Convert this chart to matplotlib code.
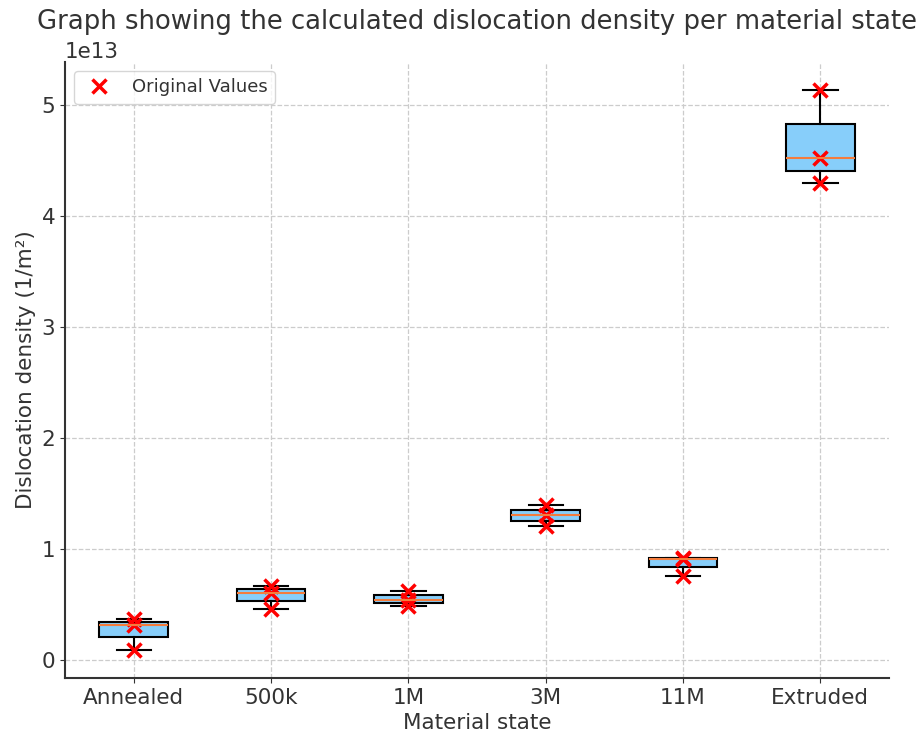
import numpy as np
import matplotlib
matplotlib.use("Agg")
import matplotlib.pyplot as plt

# dislocation density values (units of 1e13 1/m^2)
states = ["Annealed", "500k", "1M", "3M", "11M", "Extruded"]
annealed = [0.093, 0.321, 0.375]
k500 = [0.462, 0.610, 0.669]
m1 = [0.493, 0.547, 0.624]
m3 = [1.207, 1.309, 1.396]
m11 = [0.763, 0.910, 0.925]
extruded = [4.30, 4.52, 5.135]

groups = [annealed, k500, m1, m3, m11, extruded]
data = [np.array(g) * 1e13 for g in groups]

plt.rcParams["text.color"] = "#333333"
plt.rcParams["axes.labelcolor"] = "#333333"
plt.rcParams["axes.edgecolor"] = "#333333"
plt.rcParams["xtick.color"] = "#333333"
plt.rcParams["ytick.color"] = "#333333"
plt.rcParams["font.size"] = 12

fig = plt.figure(figsize=(9.17, 7.35), dpi=100)
ax = fig.add_axes([0.0709, 0.0776, 0.8986, 0.838])

bp = ax.boxplot(data, patch_artist=True, widths=0.5,
                boxprops=dict(facecolor="#87CEFA", edgecolor="black", linewidth=1.5),
                whiskerprops=dict(color="black", linewidth=1.5),
                capprops=dict(color="black", linewidth=1.5),
                medianprops=dict(color="#f47c3c", linewidth=1.5))

for i, vals in enumerate(data):
    ax.plot([i + 1] * len(vals), vals, "x", color="red", markersize=9.5, mew=2.5,
            label="Original Values" if i == 0 else None)

ax.set_xticks(range(1, len(states) + 1))
ax.set_xticklabels(states, fontsize=15.5)
ax.tick_params(axis="y", labelsize=15.5)
ax.yaxis.get_offset_text().set_fontsize(15.5)
ax.set_xlabel("Material state", fontsize=15.5)
ax.set_ylabel("Dislocation density (1/m²)", fontsize=15.5)
ax.set_title("Graph showing the calculated dislocation density per material state",
             fontsize=18.6, pad=24)
ax.grid(True, linestyle="--", color="#cccccc", linewidth=0.9)
ax.set_axisbelow(True)
ax.spines["top"].set_visible(False)
ax.spines["right"].set_visible(False)
ax.spines["left"].set_linewidth(1.5)
ax.spines["bottom"].set_linewidth(1.5)
ax.legend(loc="upper left", fontsize=13)

fig.savefig("out.png", dpi=100)
